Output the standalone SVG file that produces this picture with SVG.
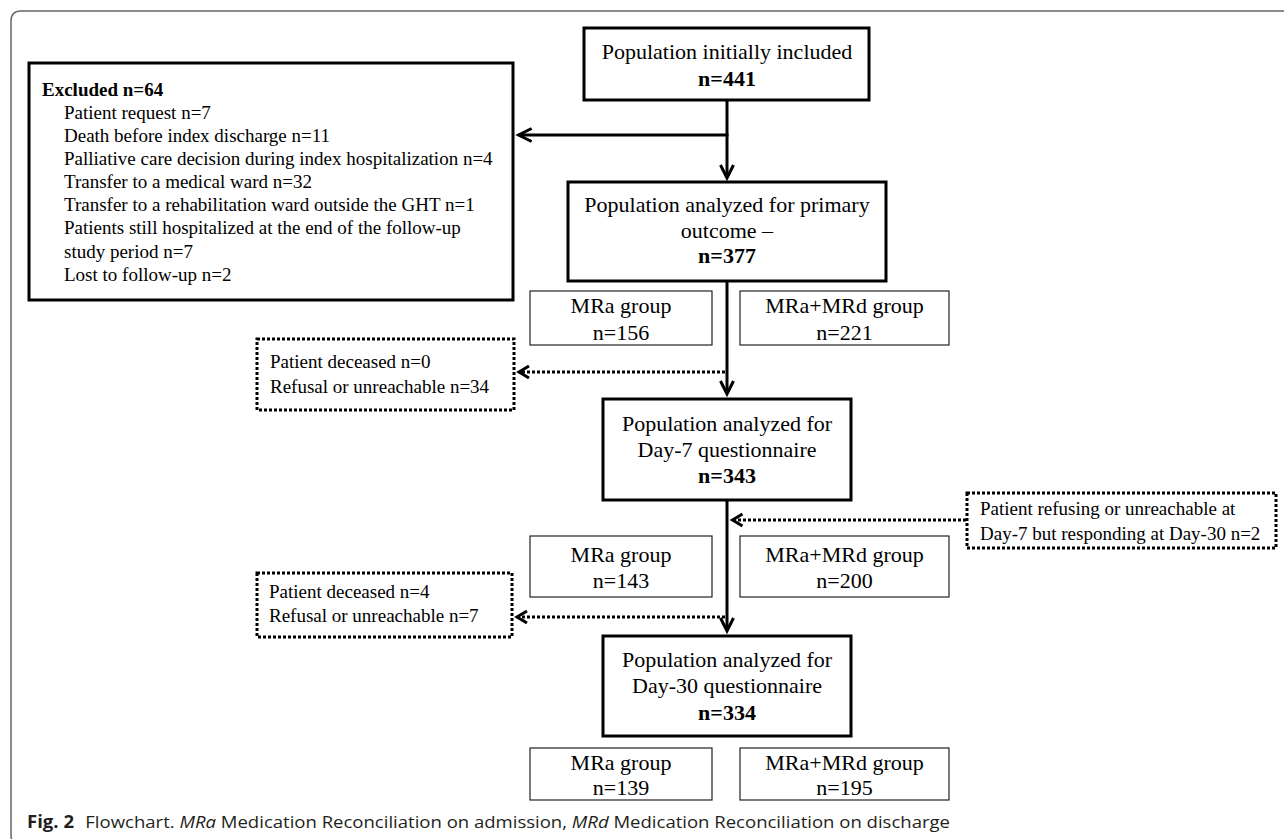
<svg xmlns="http://www.w3.org/2000/svg" width="1284" height="839" viewBox="0 0 1284 839">
<style>
text{font-family:"Liberation Serif","Times New Roman",serif;fill:#000}
.m{font-size:22px}
.s{font-size:19px}
.b{font-weight:bold}
.c{text-anchor:middle}
.main{fill:#fff;stroke:#000;stroke-width:3}
.grp{fill:#fff;stroke:#222;stroke-width:1.2}
.dot{fill:#fff;stroke:#000;stroke-width:3;stroke-dasharray:3 2}
.ln{fill:none;stroke:#000;stroke-width:3}
.dl{fill:none;stroke:#000;stroke-width:3;stroke-dasharray:3 2}
.cap{font-family:"Open Sans","Noto Sans",sans-serif;font-size:17px;fill:#231f20}
</style>
<defs>
<marker id="ah" markerUnits="userSpaceOnUse" viewBox="-16 -9 20 18" refX="0" refY="0" markerWidth="20" markerHeight="18" orient="auto" overflow="visible">
<path d="M-13,-6.5 L0,0 L-13,6.5" fill="none" stroke="#000" stroke-width="3"/>
</marker>
<marker id="ahs" markerUnits="userSpaceOnUse" viewBox="-14 -9 18 18" refX="0" refY="0" markerWidth="18" markerHeight="18" orient="auto" overflow="visible">
<path d="M-10,-6 L0,0 L-10,6" fill="none" stroke="#000" stroke-width="3"/>
</marker>
</defs>
<rect width="1284" height="839" fill="#fff"/>
<path d="M1290,11 H21 Q11,11 11,21 V835 Q11,845 21,845 H1290" fill="none" stroke="#666" stroke-width="1.5"/>

<g id="connectors">
<path class="ln" d="M727,100 V178" marker-end="url(#ah)"/>
<path class="ln" d="M728.5,135 H518.6" marker-end="url(#ah)"/>
<path class="ln" d="M727,281 V394" marker-end="url(#ah)"/>
<path class="ln" d="M727,500 V631" marker-end="url(#ah)"/>
<path class="dl" d="M725,372 H519" marker-end="url(#ahs)"/>
<path class="dl" d="M966,520 H732.5" marker-end="url(#ahs)"/>
<path class="dl" d="M725,617 H517" marker-end="url(#ahs)"/>
</g>

<g id="n-initial">
<rect class="main" x="584" y="28" width="285" height="72"/>
<text class="m c" x="727" y="59">Population initially included</text>
<text class="m c b" x="727" y="86">n=441</text>
</g>

<g id="n-excluded">
<rect class="main" x="29" y="63" width="484" height="237"/>
<text class="s b" x="42" y="96">Excluded n=64</text>
<text class="s" x="64" y="119">Patient request n=7</text>
<text class="s" x="64" y="142">Death before index discharge n=11</text>
<text class="s" x="64" y="165">Palliative care decision during index hospitalization n=4</text>
<text class="s" x="64" y="188">Transfer to a medical ward n=32</text>
<text class="s" x="64" y="211">Transfer to a rehabilitation ward outside the GHT n=1</text>
<text class="s" x="64" y="234">Patients still hospitalized at the end of the follow-up</text>
<text class="s" x="64" y="258">study period n=7</text>
<text class="s" x="64" y="281">Lost to follow-up n=2</text>
</g>

<g id="n-primary">
<rect class="main" x="568" y="182" width="318" height="99"/>
<text class="m c" x="727" y="212">Population analyzed for primary</text>
<text class="m c" x="727" y="238">outcome –</text>
<text class="m c b" x="727" y="263">n=377</text>
</g>

<g id="n-mra1">
<rect class="grp" x="530" y="291" width="182" height="54"/>
<text class="m c" x="621" y="313">MRa group</text>
<text class="m c" x="621" y="340">n=156</text>
</g>
<g id="n-mrd1">
<rect class="grp" x="740" y="291" width="209" height="54"/>
<text class="m c" x="844.5" y="313">MRa+MRd group</text>
<text class="m c" x="844.5" y="340">n=221</text>
</g>

<g id="n-lost7">
<rect class="dot" x="257" y="339" width="257" height="71"/>
<text class="s" x="270" y="368">Patient deceased n=0</text>
<text class="s" x="270" y="393">Refusal or unreachable n=34</text>
</g>

<g id="n-day7">
<rect class="main" x="603" y="399" width="248" height="101"/>
<text class="m c" x="727" y="431">Population analyzed for</text>
<text class="m c" x="727" y="457">Day-7 questionnaire</text>
<text class="m c b" x="727" y="483">n=343</text>
</g>

<g id="n-back30">
<rect class="dot" x="967" y="493" width="309" height="55"/>
<text class="s" x="980" y="515">Patient refusing or unreachable at</text>
<text class="s" x="980" y="540">Day-7 but responding at Day-30 n=2</text>
</g>

<g id="n-mra2">
<rect class="grp" x="530" y="536" width="182" height="61"/>
<text class="m c" x="621" y="562">MRa group</text>
<text class="m c" x="621" y="588">n=143</text>
</g>
<g id="n-mrd2">
<rect class="grp" x="740" y="536" width="209" height="61"/>
<text class="m c" x="844.5" y="562">MRa+MRd group</text>
<text class="m c" x="844.5" y="588">n=200</text>
</g>

<g id="n-lost30">
<rect class="dot" x="257" y="573" width="255" height="64"/>
<text class="s" x="269" y="598">Patient deceased n=4</text>
<text class="s" x="269" y="622">Refusal or unreachable n=7</text>
</g>

<g id="n-day30">
<rect class="main" x="603" y="636" width="248" height="100"/>
<text class="m c" x="727" y="667">Population analyzed for</text>
<text class="m c" x="727" y="693">Day-30 questionnaire</text>
<text class="m c b" x="727" y="720">n=334</text>
</g>

<g id="n-mra3">
<rect class="grp" x="530" y="748" width="182" height="52"/>
<text class="m c" x="621" y="770">MRa group</text>
<text class="m c" x="621" y="795">n=139</text>
</g>
<g id="n-mrd3">
<rect class="grp" x="740" y="748" width="209" height="52"/>
<text class="m c" x="844.5" y="770">MRa+MRd group</text>
<text class="m c" x="844.5" y="795">n=195</text>
</g>

<text class="cap" x="27" y="828" textLength="923" lengthAdjust="spacingAndGlyphs"><tspan font-weight="bold">Fig. 2</tspan><tspan dx="6"> Flowchart. </tspan><tspan font-style="italic">MRa</tspan> Medication Reconciliation on admission, <tspan font-style="italic">MRd</tspan> Medication Reconciliation on discharge</text>
</svg>
